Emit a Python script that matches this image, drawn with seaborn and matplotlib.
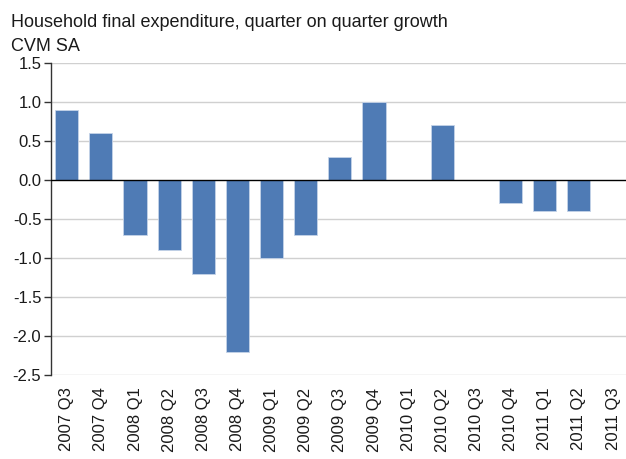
import numpy as np
import pandas as pd
import matplotlib
matplotlib.use("Agg")
import matplotlib.pyplot as plt
import seaborn as sns

quarters = ["2007 Q3", "2007 Q4", "2008 Q1", "2008 Q2", "2008 Q3", "2008 Q4",
            "2009 Q1", "2009 Q2", "2009 Q3", "2009 Q4", "2010 Q1", "2010 Q2",
            "2010 Q3", "2010 Q4", "2011 Q1", "2011 Q2", "2011 Q3"]
growth = [0.9, 0.6, -0.7, -0.9, -1.2, -2.2, -1.0, -0.7, 0.3, 1.0, 0.0, 0.7,
          0.0, -0.3, -0.4, -0.4, np.nan]
yticks = [1.5, 1.0, 0.5, 0.0, -0.5, -1.0, -1.5, -2.0, -2.5]


def main():
    df = pd.DataFrame({"quarter": quarters, "growth": growth})

    sns.set_style("white")
    plt.rcParams["font.family"] = ["Liberation Sans", "DejaVu Sans"]

    fig = plt.figure(figsize=(6.26, 4.59), dpi=100)
    ax = fig.add_axes([0.0815, 0.183, 0.9185, 0.68])

    sns.barplot(data=df, x="quarter", y="growth", order=quarters,
                color="#4f7bb5", saturation=1, width=0.68,
                edgecolor="#c5d3e8", linewidth=0.6, ax=ax, zorder=3)

    ax.set_ylim(-2.5, 1.5)
    ax.set_xlim(-0.46, len(quarters) - 0.62)
    ax.set_yticks(yticks)
    ax.set_yticklabels([f"{v:.1f}" for v in yticks], fontsize=12, color="#1a1a1a")
    ax.set_xticks(range(len(quarters)))
    ax.set_xticklabels(quarters, rotation=90, fontsize=12, color="#1a1a1a")

    for v in yticks:
        if v != 0:
            ax.axhline(v, color="#d0d0d0", linewidth=1, zorder=1)
    ax.axhline(0, color="black", linewidth=1, zorder=4)

    for s in ["top", "right", "bottom"]:
        ax.spines[s].set_visible(False)
    ax.spines["left"].set_color("#333333")
    ax.spines["left"].set_linewidth(1)
    ax.tick_params(axis="y", length=5, width=1, color="#333333", pad=2, left=True)
    ax.tick_params(axis="x", length=0, pad=9)

    ax.set_xlabel("")
    ax.set_ylabel("")

    fig.text(0.018, 0.97, "Household final expenditure, quarter on quarter growth",
             fontsize=13, color="#1a1a1a", va="top", ha="left")
    fig.text(0.018, 0.918, "CVM SA", fontsize=13, color="#1a1a1a",
             va="top", ha="left")

    fig.savefig("out.png", dpi=100)


if __name__ == "__main__":
    main()
